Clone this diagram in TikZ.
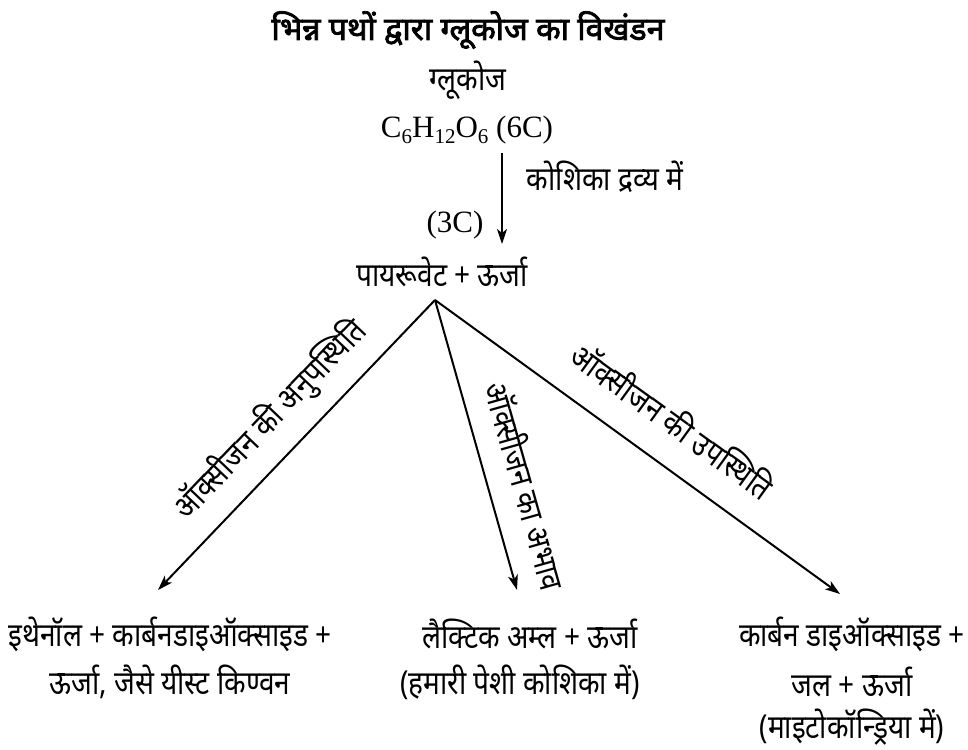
\documentclass[tikz,border=0pt]{standalone}
\usepackage{fontspec}
\setmainfont{Liberation Serif}
\newfontfamily\dev[Script=Devanagari, FakeStretch=0.85]{Noto Sans}
\newfontfamily\devb[Script=Devanagari, FakeBold=2.5]{Noto Sans}
\usetikzlibrary{arrows.meta}
\newcommand\sbx[1]{\raisebox{-0.45ex}{\fontsize{21}{21}\selectfont #1}}
\begin{document}
\begin{tikzpicture}[x=1pt,y=-1pt,
  txt/.style={inner sep=0pt, font=\dev\fontsize{33}{38}\selectfont},
  lat/.style={inner sep=0pt, font=\fontsize{31}{36}\selectfont},
  arr/.style={line width=2pt, -{Stealth[length=15pt,width=10pt,inset=4pt]}},
  lbl/.style={sloped, inner sep=3pt, font=\dev\fontsize{33}{38}\selectfont}]
\useasboundingbox (0,0) rectangle (968,749);
\node[inner sep=0pt, font=\devb\fontsize{32}{38}\selectfont] (title) at (468,30) {भिन्न पथों द्वारा ग्लूकोज का विखंडन};
\node[txt] (glu) at (468,80) {ग्लूकोज};
\node[lat] (form) at (467,130) {C\sbx{6}H\sbx{12}O\sbx{6} (6C)};
\coordinate (v1) at (502,153);
\coordinate (v2) at (502,244);
\node[txt] (cyto) at (605,177) {कोशिका द्रव्य में};
\node[lat] (three) at (455,225) {(3C)};
\node[txt] (pyr) at (442,272) {पायरूवेट + ऊर्जा};
\coordinate (apex) at (435,300);
\coordinate (eL) at (158,590);
\coordinate (eM) at (517,590);
\coordinate (eR) at (840,594);
\draw[arr] (v1) -- (v2);
\draw[arr] (apex) -- node[lbl, pos=0.5, above=13pt] {ऑक्सीजन की अनुपस्थिति} (eL);
\draw[arr] (apex) -- node[lbl, pos=0.675, above=19pt] {ऑक्सीजन का अभाव} (eM);
\draw[arr] (apex) -- node[lbl, pos=0.526, above=24pt] {ऑक्सीजन की उपस्थिति} (eR);
\node[txt] (l1) at (170,634) {इथेनॉल + कार्बनडाइऑक्साइड +};
\node[txt] (l2) at (170,682) {ऊर्जा, जैसे यीस्ट किण्वन};
\node[txt] (m1) at (530,634) {लैक्टिक अम्ल + ऊर्जा};
\node[txt] (m2) at (520,682) {(हमारी पेशी कोशिका में)};
\node[txt] (r1) at (852,634) {कार्बन डाइऑक्साइड +};
\node[txt] (r2) at (852,682) {जल + ऊर्जा};
\node[txt] (r3) at (852,727) {(माइटोकॉन्ड्रिया में)};
\end{tikzpicture}
\end{document}
